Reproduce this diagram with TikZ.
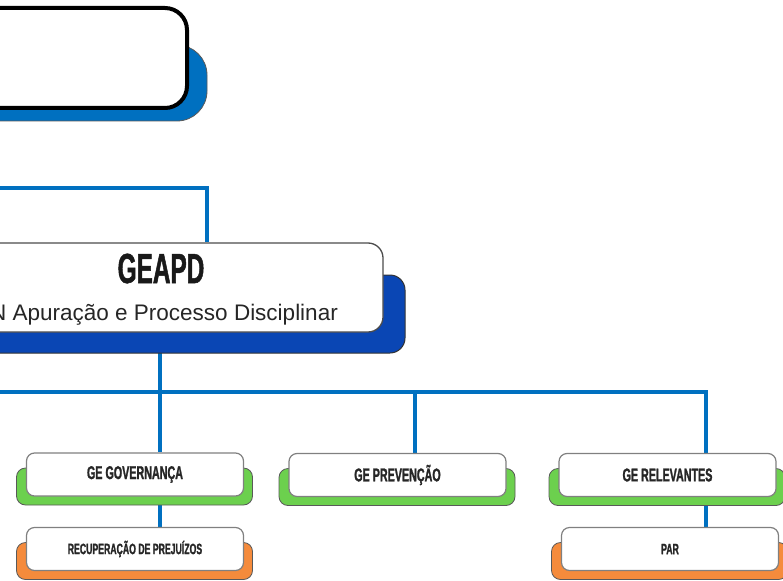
\documentclass[tikz,border=0pt]{standalone}
\usepackage{fontspec}
\setmainfont{Liberation Sans}
\newfontfamily\titulo[UprightFont={* Bold},FakeStretch=0.58,FakeBold=1.2]{Liberation Sans}
\usepackage{tikz}
\usetikzlibrary{positioning,calc}
\pgfdeclarelayer{ligacoes}
\pgfsetlayers{ligacoes,main}
\definecolor{azul}{HTML}{0070C0}
\definecolor{azulesc}{HTML}{0A46B4}
\definecolor{verde}{HTML}{6CD04E}
\definecolor{laranja}{HTML}{F58B3C}
% caixa pequena: nome, posicao, estilo, cor da sombra, texto
\newcommand{\caixa}[5]{%
\draw[sombra,fill=#4] ($(#2)+(-118.5,-6.5)$) rectangle ($(#2)+(117.5,30.5)$);
\node[#3] (#1) at (#2) {#5};
}
\tikzset{%
  linha/.style={draw=azul,line width=4pt},
  sombra/.style={draw=black!65,line width=0.8pt,rounded corners=9pt},
  caixa/.style={%
    draw=gray,line width=1.2pt,fill=white,
    rounded corners=8pt,inner sep=0pt,
    minimum width=217pt,minimum height=43pt,
    font={\titulo\fontsize{18.5}{20}\selectfont},
    text=black!85
  },
  caixinha/.style={caixa,font={\titulo\fontsize{15}{17}\selectfont}}
}

\begin{document}
\begin{tikzpicture}[x=1pt,y=-1pt]
\useasboundingbox (0,0) rectangle (783,580);
\clip (0,0) rectangle (783,580);

% caixa do topo
\draw[sombra,rounded corners=30pt,fill=azul] (-190,45) rectangle (207,121);
\node[draw=black,line width=4pt,fill=white,rounded corners=22pt,
  minimum width=386pt,minimum height=100pt] (topo) at (-6,58) {};

% GEAPD
\draw[sombra,rounded corners=15pt,fill=azulesc,draw=black!80,line width=1pt]
  (-70,275) rectangle (405,353);
\node[draw=gray!60!black,line width=1.3pt,fill=white,rounded corners=15pt,
  minimum width=446pt,minimum height=89pt] (geapd) at (160,287.5) {};
\node[anchor=base,font={\titulo\fontsize{42}{44}\selectfont},text=black!90]
  (sigla) at (161,283) {GEAPD};
\node[anchor=base,font={\fontsize{22.5}{24}\selectfont},text=black!85]
  (nome) at (164,320) {N Apuração e Processo Disciplinar};

% gerencias
\caixa{gov}{135,474.5}{caixa}{verde}{GE GOVERNANÇA}
\caixa{prev}{397.5,475}{caixa}{verde}{GE PREVENÇÃO}
\caixa{rel}{667.5,475}{caixa}{verde}{GE RELEVANTES}
\caixa{rec}{135,549}{caixinha}{laranja}{RECUPERAÇÃO DE PREJUÍZOS}
\caixa{par}{670,549}{caixinha}{laranja}{PAR}

% ligacoes
\begin{pgfonlayer}{ligacoes}
\coordinate (tronco) at (-120,188);
\coordinate (barra) at (-120,392);
\draw[linha] (tronco) -| ([xshift=47pt]geapd.north);
\draw[linha] (barra) -| ([xshift=38.5pt]rel.north);
\draw[linha] (geapd.south) -- (geapd.south |- gov.north);
\draw[linha] ([xshift=17.5pt]prev.north) -- ++(0,-62);
\draw[linha] ([xshift=25pt]gov.south) -- ([xshift=25pt]rec.north);
\draw[linha] ([xshift=38.5pt]rel.south) -- ([xshift=36pt]par.north);
\end{pgfonlayer}
\end{tikzpicture}
\end{document}
